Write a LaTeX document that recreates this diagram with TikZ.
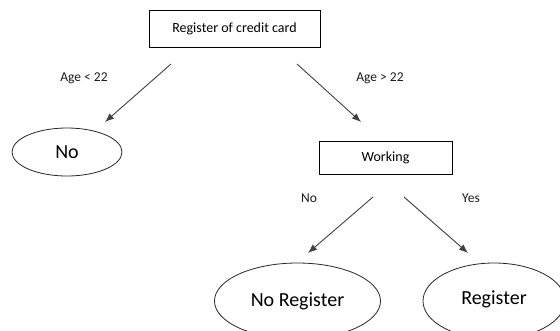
\documentclass[tikz,border=0pt]{standalone}
\usepackage{fontspec}
\setmainfont{Carlito}
\usetikzlibrary{shapes.geometric,arrows.meta}
\begin{document}
\begin{tikzpicture}[x=1pt,y=-1pt,
  box/.style={draw=black,line width=0.9pt,minimum width=#1,minimum height=36pt,inner sep=0pt,font=\fontsize{14}{16}\selectfont},
  leaf/.style={draw=black!85,line width=0.8pt,ellipse,inner sep=0pt,font=\fontsize{20}{22}\selectfont},
  lbl/.style={font=\fontsize{13.5}{16}\selectfont,text=black!90},
  arr/.style={draw=black!75,line width=0.9pt,-{Latex[length=9pt,width=7pt]}}]
\useasboundingbox (0,0) rectangle (560,330);
\begin{scope}
\clip (0,0) rectangle (560,330);
% decision nodes
\node[box=171pt,minimum height=37pt] (card) at (234.5,28.5) {Register of credit card};
\node[box=133pt,minimum height=33pt] (work) at (385.5,157.5) {Working};
% outcome nodes
\node[leaf,minimum width=110pt,minimum height=48pt] (no) at (67,152) {No};
\node[leaf,minimum width=166pt,minimum height=76pt] (noreg) at (297.5,301) {No Register};
\node[leaf,minimum width=142pt,minimum height=76pt] (reg) at (494,301) {\raisebox{7pt}{Register}};
% branch labels
\node[lbl] (lt) at (84,78) {Age < 22};
\node[lbl] (gt) at (380,78) {Age > 22};
\node[lbl] (wno) at (309,198) {No};
\node[lbl] (wyes) at (471,198) {Yes};
% arrow end points
\coordinate (a1) at (171,64);
\coordinate (a2) at (105,122);
\coordinate (b1) at (297,64);
\coordinate (b2) at (361,122);
\coordinate (c1) at (373,197);
\coordinate (c2) at (308,253);
\coordinate (d1) at (404,197);
\coordinate (d2) at (468,253);
\draw[arr] (a1) -- (a2);
\draw[arr] (b1) -- (b2);
\draw[arr] (c1) -- (c2);
\draw[arr] (d1) -- (d2);
\end{scope}
\end{tikzpicture}
\end{document}
